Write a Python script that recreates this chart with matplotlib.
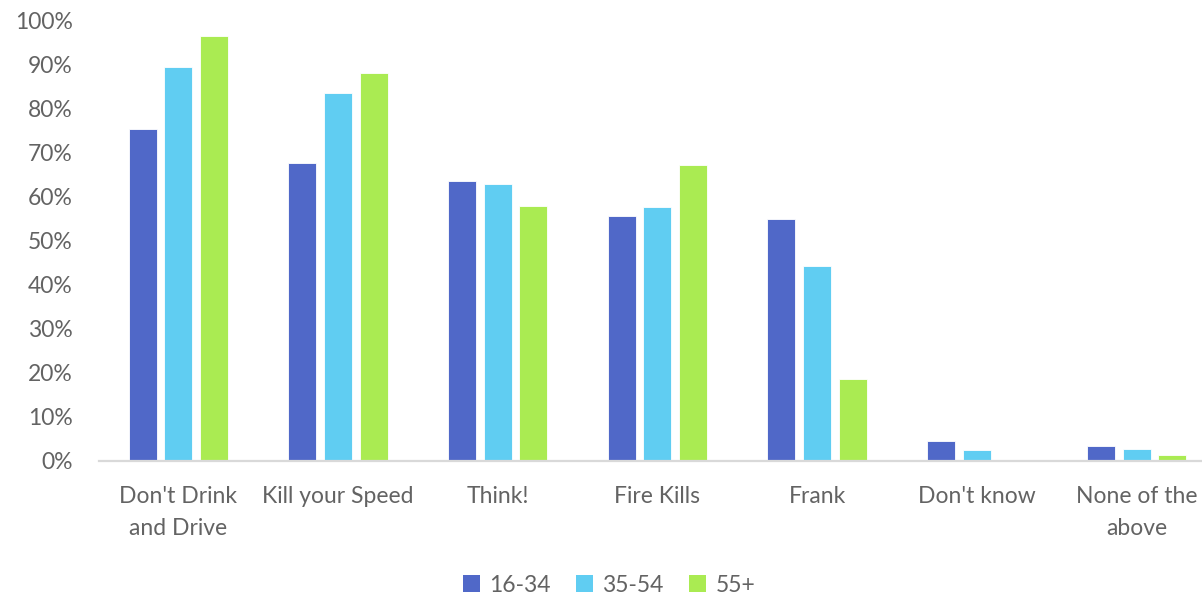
import matplotlib
matplotlib.use("Agg")
import matplotlib.pyplot as plt
import numpy as np
from matplotlib.ticker import PercentFormatter
from matplotlib.patches import Patch

categories = ["Don't Drink\nand Drive", "Kill your Speed", "Think!", "Fire Kills",
              "Frank", "Don't know", "None of the\nabove"]
age_16_34 = [75.4, 67.6, 63.5, 55.6, 54.9, 4.5, 3.3]
age_35_54 = [89.5, 83.7, 62.8, 57.7, 44.3, 2.4, 2.6]
age_55_plus = [96.7, 88.2, 57.9, 67.2, 18.5, 0.0, 1.3]
series_names = ["16-34", "35-54", "55+"]
colors = ["#5068C8", "#60CDF2", "#AAEB52"]
y_ticks = list(range(0, 101, 10))

plt.rcParams['font.family'] = ['Lato', 'DejaVu Sans']
text_color = "#636363"

fig = plt.figure(figsize=(12.02, 5.94), dpi=100)
ax = fig.add_axes([98.5 / 1202, 133.5 / 594, 1117.9 / 1202, 439.5 / 594])

x = np.arange(len(categories))
step = 0.2236
width = 0.175
for i, (vals, c) in enumerate(zip([age_16_34, age_35_54, age_55_plus], colors)):
    ax.bar(x + (i - 1) * step, vals, width=width, color=c,
           edgecolor="white", linewidth=0.6, zorder=2)

ax.set_xlim(-0.5, len(categories) - 0.5)
ax.set_ylim(0, 100)
ax.set_yticks(y_ticks)
ax.yaxis.set_major_formatter(PercentFormatter(decimals=0))
ax.set_xticks(x)
ax.set_xticklabels(categories, linespacing=1.65)

for s in ["top", "right", "left"]:
    ax.spines[s].set_visible(False)
ax.spines["bottom"].set_color("#D9D9D9")
ax.spines["bottom"].set_linewidth(1.6)
ax.spines["bottom"].set_zorder(3)

ax.tick_params(axis="y", length=0, pad=18.7, labelsize=16.5, labelcolor=text_color)
ax.tick_params(axis="x", length=0, pad=18.5, labelsize=16.5, labelcolor=text_color)

handles = [Patch(facecolor=c, edgecolor="none") for c in colors]
fig.legend(handles, series_names, loc="center", bbox_to_anchor=(609 / 1202, 1 - 585 / 594),
           ncol=3, frameon=False, fontsize=16.5, labelcolor=text_color,
           handlelength=0.75, handleheight=0.75, handletextpad=0.4, columnspacing=1.1)

fig.savefig("out.png", dpi=100)
